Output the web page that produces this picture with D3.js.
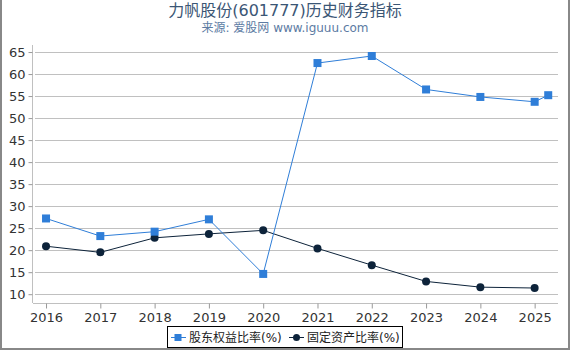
<!DOCTYPE html>
<html>
<head>
<meta charset="utf-8">
<script src="https://cdn.jsdelivr.net/npm/d3@7"></script>
<style>
  body { margin: 0; background: #fff; }
  text { font-family: "DejaVu Sans", "Noto Sans CJK SC", sans-serif; }
</style>
</head>
<body>
<div id="chart"></div>
<script>
// data
const years = [2016, 2017, 2018, 2019, 2020, 2021, 2022, 2023, 2024, 2025];
const equityX = [2016, 2017, 2018, 2019, 2020, 2021, 2022, 2023, 2024, 2025, 2025.25];
const equityRatio = [27.2, 23.2, 24.2, 27.0, 14.6, 62.5, 64.1, 56.5, 54.8, 53.7, 55.2];
const fixedX = [2016, 2017, 2018, 2019, 2020, 2021, 2022, 2023, 2024, 2025];
const fixedRatio = [20.9, 19.5, 22.8, 23.7, 24.5, 20.4, 16.6, 12.9, 11.6, 11.4];
const yTicks = [10, 15, 20, 25, 30, 35, 40, 45, 50, 55, 60, 65];
const seriesNames = ["股东权益比率(%)", "固定资产比率(%)"];

const width = 570, height = 350;
const blue = "#2f7ed8", navy = "#0d233a";

const svg = d3.select("#chart").append("svg")
  .attr("width", width).attr("height", height);

// outer frame
svg.append("path")
  .attr("d", "M1,0 V349 H569 V0")
  .attr("fill", "none").attr("stroke", "#888").attr("stroke-width", 2);

// titles
svg.append("text").text("力帆股份(601777)历史财务指标")
  .attr("x", 285).attr("y", 16).attr("text-anchor", "middle")
  .attr("font-size", 16).attr("fill", "#3b5675");
svg.append("text").text("来源: 爱股网 www.iguuu.com")
  .attr("x", 285).attr("y", 32).attr("text-anchor", "middle")
  .attr("font-size", 12).attr("fill", "#5c7ba3");

const x = d3.scaleLinear().domain([2015.76, 2025.43]).range([33, 558]);
const y = d3.scaleLinear().domain([8, 66.6]).range([303, 45]);

// grid
svg.append("g").selectAll("line").data(yTicks).join("line")
  .attr("x1", 35).attr("x2", 558)
  .attr("y1", d => Math.round(y(d)) + 0.5).attr("y2", d => Math.round(y(d)) + 0.5)
  .attr("stroke", "#c0c0c0").attr("stroke-width", 1);

// y axis
const yAxis = svg.append("g").attr("transform", "translate(32.5,0)")
  .call(d3.axisLeft(y).tickValues(yTicks).tickSize(4).tickPadding(3));
yAxis.select(".domain").attr("stroke", "#c0c0c0").attr("d", "M0,45V303");
yAxis.selectAll(".tick line").attr("stroke", "#999");
yAxis.selectAll("text").attr("font-size", 13).attr("fill", "#333")
  .attr("font-family", "DejaVu Sans");

// x axis
const xAxis = svg.append("g").attr("transform", "translate(0,303.5)")
  .call(d3.axisBottom(x).tickValues(years).tickFormat(d3.format("d")).tickSize(5).tickPadding(4));
xAxis.select(".domain").attr("stroke", "#c0c0c0").attr("d", "M33,0H558");
xAxis.selectAll(".tick line").attr("stroke", "#999");
xAxis.selectAll("text").attr("font-size", 13).attr("fill", "#333")
  .attr("font-family", "DejaVu Sans");

const line = d3.line().x(d => x(d[0])).y(d => y(d[1]));

const equity = equityX.map((d, i) => [d, equityRatio[i]]);
const fixed = fixedX.map((d, i) => [d, fixedRatio[i]]);

svg.append("path").datum(fixed).attr("d", line)
  .attr("fill", "none").attr("stroke", navy).attr("stroke-width", 1);
svg.append("g").selectAll("circle").data(fixed).join("circle")
  .attr("cx", d => x(d[0])).attr("cy", d => y(d[1])).attr("r", 4)
  .attr("fill", navy);

svg.append("path").datum(equity).attr("d", line)
  .attr("fill", "none").attr("stroke", blue).attr("stroke-width", 1);
svg.append("g").selectAll("rect").data(equity).join("rect")
  .attr("x", d => x(d[0]) - 4).attr("y", d => y(d[1]) - 4)
  .attr("width", 8).attr("height", 8).attr("fill", blue);

// legend
const lg = svg.append("g");
lg.append("rect").attr("x", 167.5).attr("y", 326.5).attr("width", 235).attr("height", 21)
  .attr("fill", "#fff").attr("stroke", "#000").attr("stroke-width", 1);
const items = [
  { name: seriesNames[0], color: blue, shape: "square", x: 171 },
  { name: seriesNames[1], color: navy, shape: "circle", x: 289 }
];
items.forEach(it => {
  lg.append("line").attr("x1", it.x).attr("x2", it.x + 15)
    .attr("y1", 337.5).attr("y2", 337.5).attr("stroke", it.color).attr("stroke-width", 1);
  if (it.shape === "square") {
    lg.append("rect").attr("x", it.x + 3.5).attr("y", 334).attr("width", 7).attr("height", 7).attr("fill", it.color);
  } else {
    lg.append("circle").attr("cx", it.x + 7.5).attr("cy", 337.5).attr("r", 3.5).attr("fill", it.color);
  }
  lg.append("text").text(it.name).attr("x", it.x + 18).attr("y", 342)
    .attr("font-size", 12).attr("fill", "#222");
});
</script>
</body>
</html>
